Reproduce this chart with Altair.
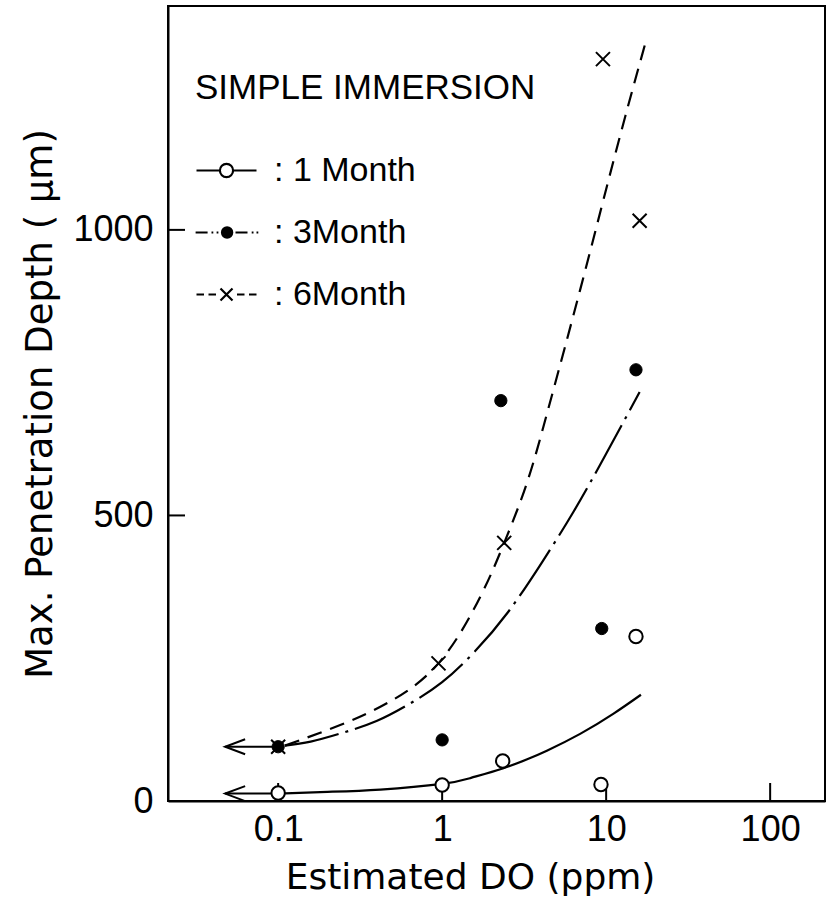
import altair as alt
import pandas as pd

FONT = "Liberation Sans"
TFONT = "DejaVu Sans"

series = ["1 Month", "3Month", "6Month"]

# fitted curves (x = DO ppm, y = depth um)
c1_x = [0.1, 0.2, 0.42, 1.0, 1.5, 2.34, 3.3, 4.35, 6.94, 11.1, 16.3]
c1_y = [13, 16, 20, 30, 40.5, 57, 73, 88, 117.5, 153, 186]
c3_x = [0.11, 0.158, 0.251, 0.398, 0.631, 1.0, 1.585, 2.512, 3.981, 6.31, 10.0, 16.0]
c3_y = [97, 104, 120, 140, 170, 208, 262, 330, 414, 506, 608, 716]
c6_x = [0.11, 0.239, 0.46, 0.95, 1.71, 2.39, 3.28, 4.14, 4.77, 6.94, 10.1, 13.4, 17.7]
c6_y = [97, 133, 171, 241, 358, 452, 556, 655, 720, 895, 1076, 1210, 1336]

# measured points
p1_x = [0.1, 1.0, 2.34, 9.3, 15.2]
p1_y = [14, 28, 70, 29, 288]
p3_x = [0.1, 1.0, 2.28, 9.4, 15.2]
p3_y = [95, 107, 701, 302, 755]
p6_x = [0.1, 0.95, 2.39, 9.56, 16.0]
p6_y = [95, 241, 452, 1299, 1016]

# "less than" arrows at 0.1 ppm
arrow_y = [95, 13]
arrow_from = [0.1, 0.1]
arrow_to = [0.0475, 0.0475]

x_ticks = [0.1, 1, 10, 100]
y_ticks = [0, 500, 1000]
x_domain = [0.0213, 216]
y_domain = [0, 1392]

xscale = alt.Scale(type="log", domain=x_domain, nice=False)
yscale = alt.Scale(domain=y_domain, nice=False, zero=False)

xaxis = alt.Axis(values=x_ticks, format="~g", ticks=False, grid=False,
                 labelFont=FONT, labelFontSize=36, labelColor="black",
                 labelPadding=11, labelFlush=False,
                 title="Estimated DO  (ppm)", titleFont=TFONT, titleFontSize=36,
                 titleFontWeight="normal", titleColor="black", titlePadding=13,
                 titleX=302, domainColor="black", domainWidth=2)
yaxis = alt.Axis(values=y_ticks, format="d", ticks=False, grid=False,
                 labelFont=FONT, labelFontSize=36, labelColor="black",
                 labelPadding=15,
                 title="Max. Penetration Depth  ( \u03bcm)", titleFont=TFONT,
                 titleFontSize=37, titleFontWeight="normal", titleColor="black",
                 titlePadding=13, domainColor="black", domainWidth=2)


def X(f):
    return alt.X(f, type="quantitative", scale=xscale, axis=xaxis)


def Y(f):
    return alt.Y(f, type="quantitative", scale=yscale, axis=yaxis)


def curve(xs, ys, dash=None):
    kw = dict(color="black", strokeWidth=2.2, interpolate="natural")
    if dash:
        kw["strokeDash"] = dash
    return alt.Chart(pd.DataFrame({"x": xs, "y": ys})).mark_line(**kw).encode(x=X("x"), y=Y("y"))


l1 = curve(c1_x, c1_y)
l3 = curve(c3_x, c3_y, [55, 7, 3, 7])
l6 = curve(c6_x, c6_y, [15, 9])

X_PATH = "M-1,-1L1,1M1,-1L-1,1"
ARROW_PATH = "M2,-0.75L0,0L2,0.75"

pts1 = alt.Chart(pd.DataFrame({"x": p1_x, "y": p1_y})).mark_point(
    shape="circle", size=180, filled=True, fill="white", stroke="black",
    strokeWidth=2, opacity=1).encode(x=X("x"), y=Y("y"))
pts3 = alt.Chart(pd.DataFrame({"x": p3_x, "y": p3_y})).mark_point(
    shape="circle", size=150, filled=True, fill="black", stroke="black",
    strokeWidth=1, opacity=1).encode(x=X("x"), y=Y("y"))
pts6 = alt.Chart(pd.DataFrame({"x": p6_x, "y": p6_y})).mark_point(
    shape=X_PATH, size=196, filled=False, stroke="black",
    strokeWidth=2, opacity=1).encode(x=X("x"), y=Y("y"))

arr_df = pd.DataFrame({"x1": arrow_from, "x2": arrow_to, "y": arrow_y})
shafts = alt.Chart(arr_df).mark_rule(color="black", strokeWidth=2).encode(
    x=X("x1"), x2="x2", y=Y("y"))
heads = alt.Chart(arr_df).mark_point(shape=ARROW_PATH, size=400, filled=False,
                                     stroke="black", strokeWidth=2, opacity=1).encode(
    x=X("x2"), y=Y("y"))

# inward axis ticks
xt = alt.Chart(pd.DataFrame({"x": x_ticks})).mark_tick(
    orient="vertical", size=18, thickness=2, yOffset=-9, color="black", opacity=1
).encode(x=X("x"), y=alt.Y(datum=0, scale=yscale))
yt = alt.Chart(pd.DataFrame({"y": y_ticks})).mark_tick(
    orient="horizontal", size=17, thickness=2, xOffset=8.5, color="black", opacity=1
).encode(y=Y("y"), x=alt.value(0))


def circ(cx, r):
    return f"M{cx - r},0A{r},{r} 0 1,0 {cx + r},0A{r},{r} 0 1,0 {cx - r},0Z"


leg_paths = [
    "M-1,0L-0.22,0M0.22,0L1,0" + circ(0, 0.22),
    "M-1.03,0L-0.63,0M-0.5,0L-0.44,0M-0.33,0L-0.27,0M0.3,0L0.7,0M0.84,0L0.9,0M1.0,0L1.06,0"
    + circ(0.02, 0.17),
    "M-1,0L-0.75,0M-0.6,0L-0.35,0M-0.2,-0.2L0.2,0.2M0.2,-0.2L-0.2,0.2M0.35,0L0.6,0M0.75,0L1,0",
]
leg_fill = ["white", "black", "black"]
leg_stroke = ["black", "black", "black"]

legend = alt.Legend(title="SIMPLE IMMERSION", orient="none", legendX=27, legendY=65,
                    titleFont=FONT, titleFontSize=35, titleFontWeight="normal",
                    titleColor="black", titlePadding=33, titleAnchor="start",
                    titleLimit=0, labelLimit=0,
                    labelFont=FONT, labelFontSize=34, labelColor="black",
                    labelOffset=16, symbolSize=3600, symbolStrokeColor="black",
                    symbolStrokeWidth=2.2, symbolOpacity=1, rowPadding=13, padding=0,
                    labelExpr="': ' + datum.label")

leg_df = pd.DataFrame({"Series": series, "x": [0.1] * 3, "y": [95] * 3})
leg_layer = alt.Chart(leg_df).mark_point(filled=False, opacity=0,
                                         strokeWidth=2.2).encode(
    x=X("x"), y=Y("y"),
    shape=alt.Shape("Series:N", scale=alt.Scale(domain=series, range=leg_paths), legend=legend),
    fill=alt.Fill("Series:N", scale=alt.Scale(domain=series, range=leg_fill), legend=legend),
    stroke=alt.Stroke("Series:N", scale=alt.Scale(domain=series, range=leg_stroke), legend=legend),
)

chart = alt.layer(l1, l3, l6, xt, yt, shafts, heads, pts1, pts3, pts6, leg_layer).properties(
    width=657, height=795,
    autosize=alt.AutoSizeParams(type="none"),
    padding={"left": 168, "top": 6, "right": 5, "bottom": 114},
    background="white",
).configure_view(stroke="black", strokeWidth=2)

chart.save("out.html", embed_options={"renderer": "svg", "actions": False})
